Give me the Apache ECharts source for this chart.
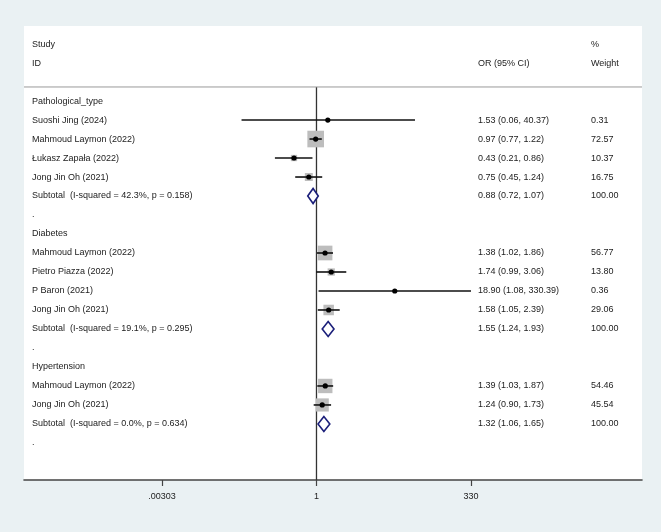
<!DOCTYPE html>
<html>
<head>
<meta charset="utf-8">
<script src="https://cdn.jsdelivr.net/npm/echarts@6/dist/echarts.min.js"></script>
<style>
  html, body { margin: 0; padding: 0; background: #eaf1f3; }
  #chart { width: 661px; height: 532px; }
</style>
</head>
<body>
<div id="chart"></div>
<script>
// rows, top to bottom
const rowLabels = [
  'Pathological_type', 'Suoshi Jing (2024)', 'Mahmoud Laymon (2022)', 'Łukasz Zapała (2022)', 'Jong Jin Oh (2021)',
  'Subtotal  (I-squared = 42.3%, p = 0.158)', '.',
  'Diabetes', 'Mahmoud Laymon (2022)', 'Pietro Piazza (2022)', 'P Baron (2021)', 'Jong Jin Oh (2021)',
  'Subtotal  (I-squared = 19.1%, p = 0.295)', '.',
  'Hypertension', 'Mahmoud Laymon (2022)', 'Jong Jin Oh (2021)',
  'Subtotal  (I-squared = 0.0%, p = 0.634)', '.'
];
const rowKind = [
  'head', 'study', 'study', 'study', 'study', 'sub', 'gap',
  'head', 'study', 'study', 'study', 'study', 'sub', 'gap',
  'head', 'study', 'study', 'sub', 'gap'
];
const orEst  = [null, 1.53, 0.97, 0.43, 0.75, 0.88, null, null, 1.38, 1.74, 18.90, 1.58, 1.55, null, null, 1.39, 1.24, 1.32, null];
const ciLow  = [null, 0.06, 0.77, 0.21, 0.45, 0.72, null, null, 1.02, 0.99, 1.08, 1.05, 1.24, null, null, 1.03, 0.90, 1.06, null];
const ciHigh = [null, 40.37, 1.22, 0.86, 1.24, 1.07, null, null, 1.86, 3.06, 330.39, 2.39, 1.93, null, null, 1.87, 1.73, 1.65, null];
const weight = [null, 0.31, 72.57, 10.37, 16.75, 100.00, null, null, 56.77, 13.80, 0.36, 29.06, 100.00, null, null, 54.46, 45.54, 100.00, null];

const tickValues = [0.00303, 1, 330];
const tickLabels = ['.00303', '1', '330'];

const FONT = "'Liberation Sans', Arial, sans-serif";
const FS = 9;
const TXT = '#222';
const colStudy = 32, colOR = 478, colW = 591;
const headerLine = -0.74;

const chart = echarts.init(document.getElementById('chart'), null, { renderer: 'canvas' });

const lnTicks = tickValues.map(v => Math.log(v));

function text(x, y, str) {
  return {
    type: 'text',
    style: { x: x, y: y, text: str, fill: TXT, font: FS + 'px ' + FONT, textVerticalAlign: 'middle' }
  };
}

function renderRow(params, api) {
  const i = api.value(0);
  const kids = [];
  const y = api.coord([0, i])[1];
  kids.push(text(colStudy, y, rowLabels[i]));
  if (orEst[i] == null) return { type: 'group', children: kids };

  kids.push(text(colOR, y, orEst[i].toFixed(2) + ' (' + ciLow[i].toFixed(2) + ', ' + ciHigh[i].toFixed(2) + ')'));
  kids.push(text(colW, y, weight[i].toFixed(2)));

  const xe = api.coord([Math.log(orEst[i]), i])[0];
  const xl = api.coord([Math.log(ciLow[i]), i])[0];
  const xh = api.coord([Math.log(ciHigh[i]), i])[0];

  if (rowKind[i] === 'sub') {
    const h = 7.5;
    kids.push({
      type: 'polygon',
      shape: { points: [[xl, y], [xe, y - h], [xh, y], [xe, y + h]] },
      style: { fill: '#fff', stroke: '#1b1f7a', lineWidth: 1.6 }
    });
  } else {
    const s = 1.95 * Math.sqrt(weight[i]);
    kids.push({
      type: 'rect',
      shape: { x: xe - s / 2, y: y - s / 2, width: s, height: s },
      style: { fill: '#bdbdbd' }
    });
    kids.push({
      type: 'line',
      shape: { x1: xl, y1: y, x2: xh, y2: y },
      style: { stroke: '#111', lineWidth: 1.6 }
    });
    kids.push({
      type: 'circle',
      shape: { cx: xe, cy: y, r: 2.6 },
      style: { fill: '#000' }
    });
  }
  return { type: 'group', children: kids };
}

const option = {
  animation: false,
  backgroundColor: '#eaf1f3',
  grid: {
    left: 24, right: 19, top: 26, bottom: 52,
    show: true, backgroundColor: '#fff', borderWidth: 0
  },
  xAxis: {
    type: 'value',
    min: -10.98,
    max: 12.22,
    splitLine: { show: false },
    axisLine: { show: true, onZero: false, lineStyle: { color: '#444', width: 1.6 } },
    axisTick: { show: true, customValues: lnTicks, length: 6, lineStyle: { color: '#444', width: 1.2 } },
    axisLabel: {
      customValues: lnTicks,
      margin: 12,
      color: TXT,
      fontSize: FS,
      fontFamily: FONT,
      formatter: function (v) {
        let best = 0;
        lnTicks.forEach((t, k) => { if (Math.abs(t - v) < Math.abs(lnTicks[best] - v)) best = k; });
        return tickLabels[best];
      }
    }
  },
  yAxis: {
    type: 'value',
    inverse: true,
    min: -3.95,
    max: 19.95,
    show: false
  },
  series: [
    {
      // null line at OR = 1 and header separator
      type: 'custom',
      data: [[0]],
      z: 1,
      renderItem: function (params, api) {
        const top = api.coord([0, headerLine]);
        const bot = api.coord([0, 19.95]);
        const left = api.coord([-10.98, headerLine]);
        const right = api.coord([12.22, headerLine]);
        return {
          type: 'group',
          children: [
            { type: 'line', shape: { x1: top[0], y1: top[1], x2: bot[0], y2: bot[1] }, style: { stroke: '#333', lineWidth: 1.3 } },
            { type: 'line', shape: { x1: left[0], y1: left[1], x2: right[0], y2: right[1] }, style: { stroke: '#9a9a9a', lineWidth: 1 } }
          ]
        };
      }
    },
    {
      type: 'custom',
      z: 2,
      data: rowLabels.map((_, i) => [i]),
      renderItem: renderRow
    }
  ],
  graphic: [
    { type: 'text', left: colStudy, top: 40, style: { text: 'Study', fill: TXT, font: FS + 'px ' + FONT } },
    { type: 'text', left: colStudy, top: 59, style: { text: 'ID', fill: TXT, font: FS + 'px ' + FONT } },
    { type: 'text', left: colOR, top: 59, style: { text: 'OR (95% CI)', fill: TXT, font: FS + 'px ' + FONT } },
    { type: 'text', left: colW, top: 40, style: { text: '%', fill: TXT, font: FS + 'px ' + FONT } },
    { type: 'text', left: colW, top: 59, style: { text: 'Weight', fill: TXT, font: FS + 'px ' + FONT } }
  ]
};

chart.setOption(option);
</script>
</body>
</html>
